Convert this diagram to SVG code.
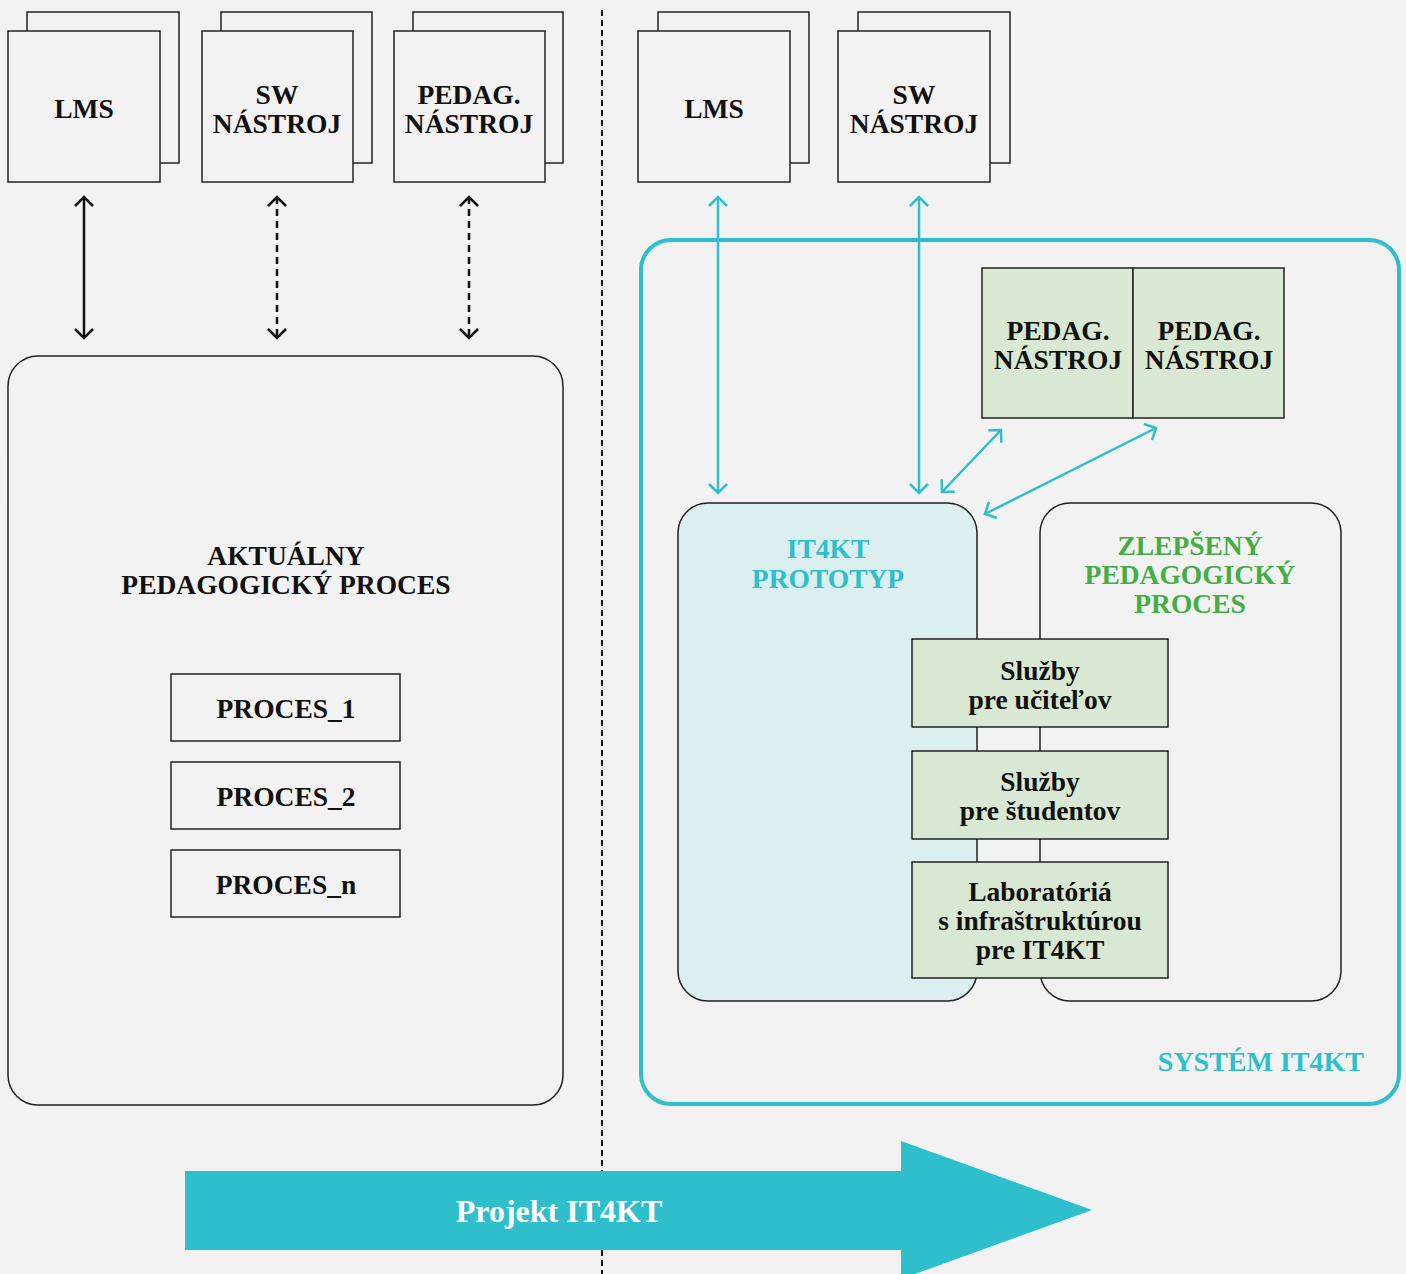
<svg xmlns="http://www.w3.org/2000/svg" width="1406" height="1274" viewBox="0 0 1406 1274">
<defs>
<style>
.t{font-family:"Liberation Serif","Times New Roman",serif;font-weight:bold;font-size:27.5px;fill:#111;text-anchor:middle}
.box{fill:#f1f2f1;stroke:#222;stroke-width:1.5}
.green{fill:#d8e8d2;stroke:#222;stroke-width:1.5}
.blk{stroke:#111;stroke-width:2.5;fill:none}
.cy{stroke:#2fbfcc;stroke-width:2.5;fill:none}
</style>
<marker id="ab" viewBox="0 0 20 20" refX="10" refY="10" markerWidth="20" markerHeight="20" markerUnits="userSpaceOnUse" orient="auto-start-reverse">
<path d="M1,1 L10,10 L1,19" fill="none" stroke="#111" stroke-width="2.5"/>
</marker>
<marker id="ac" viewBox="0 0 20 20" refX="10" refY="10" markerWidth="20" markerHeight="20" markerUnits="userSpaceOnUse" orient="auto-start-reverse">
<path d="M1,1 L10,10 L1,19" fill="none" stroke="#2fbfcc" stroke-width="2.5"/>
</marker>
</defs>
<rect width="1406" height="1274" fill="#f1f2f1"/>

<line x1="602" y1="10" x2="602" y2="1274" stroke="#111" stroke-width="2" stroke-dasharray="6,4"/>

<g id="lms-left">
<rect class="box" x="27" y="12" width="152" height="151"/>
<rect class="box" x="8" y="31" width="152" height="151"/>
<text class="t" x="84" y="118">LMS</text>
</g>
<g id="sw-left">
<rect class="box" x="221" y="12" width="151" height="151"/>
<rect class="box" x="202" y="31" width="151" height="151"/>
<text class="t" x="277" y="104">SW</text>
<text class="t" x="277" y="133">NÁSTROJ</text>
</g>
<g id="pedag-left">
<rect class="box" x="413" y="12" width="150" height="151"/>
<rect class="box" x="394" y="31" width="151" height="151"/>
<text class="t" x="469" y="104">PEDAG.</text>
<text class="t" x="469" y="133">NÁSTROJ</text>
</g>

<g id="aktualny">
<rect class="box" x="8" y="356" width="555" height="749" rx="30"/>
<text class="t" x="286" y="565">AKTUÁLNY</text>
<text class="t" x="286" y="594">PEDAGOGICKÝ PROCES</text>
</g>
<g id="proces1"><rect class="box" x="171" y="674" width="229" height="67"/><text class="t" x="286" y="718">PROCES_1</text></g>
<g id="proces2"><rect class="box" x="171" y="762" width="229" height="67"/><text class="t" x="286" y="806">PROCES_2</text></g>
<g id="procesn"><rect class="box" x="171" y="850" width="229" height="67"/><text class="t" x="286" y="894">PROCES_n</text></g>

<g id="lms-right">
<rect class="box" x="658" y="12" width="151" height="151"/>
<rect class="box" x="638" y="31" width="152" height="151"/>
<text class="t" x="714" y="118">LMS</text>
</g>
<g id="sw-right">
<rect class="box" x="858" y="12" width="152" height="151"/>
<rect class="box" x="838" y="31" width="152" height="151"/>
<text class="t" x="914" y="104">SW</text>
<text class="t" x="914" y="133">NÁSTROJ</text>
</g>

<g id="system">
<rect x="641" y="240" width="758" height="864" rx="30" fill="none" stroke="#2fbfcc" stroke-width="4"/>
<text class="t" x="1364" y="1071" style="text-anchor:end;fill:#2fbfcc;font-size:28px">SYSTÉM IT4KT</text>
</g>

<g id="pedag-r1"><rect class="green" x="982" y="268" width="151" height="150"/><text class="t" x="1058" y="340">PEDAG.</text><text class="t" x="1058" y="369">NÁSTROJ</text></g>
<g id="pedag-r2"><rect class="green" x="1133" y="268" width="151" height="150"/><text class="t" x="1209" y="340">PEDAG.</text><text class="t" x="1209" y="369">NÁSTROJ</text></g>

<g id="prototyp">
<rect x="678" y="503" width="299" height="498" rx="30" fill="#dbeef0" stroke="#222" stroke-width="1.5"/>
<text class="t" x="828" y="558" style="fill:#2fbfcc">IT4KT</text>
<text class="t" x="828" y="588" style="fill:#2fbfcc">PROTOTYP</text>
</g>
<g id="zlepseny">
<rect class="box" x="1040" y="503" width="301" height="498" rx="30"/>
<text class="t" x="1190" y="555" style="fill:#44ad45">ZLEPŠENÝ</text>
<text class="t" x="1190" y="584" style="fill:#44ad45">PEDAGOGICKÝ</text>
<text class="t" x="1190" y="613" style="fill:#44ad45">PROCES</text>
</g>
<g id="sluzby-ucitelov"><rect class="green" x="912" y="639" width="256" height="88"/><text class="t" x="1040" y="680">Služby</text><text class="t" x="1040" y="709">pre učiteľov</text></g>
<g id="sluzby-studentov"><rect class="green" x="912" y="751" width="256" height="88"/><text class="t" x="1040" y="791">Služby</text><text class="t" x="1040" y="820">pre študentov</text></g>
<g id="laboratoria"><rect class="green" x="912" y="862" width="256" height="116"/><text class="t" x="1040" y="901">Laboratóriá</text><text class="t" x="1040" y="930">s infraštruktúrou</text><text class="t" x="1040" y="959">pre IT4KT</text></g>

<g id="connectors">
<line class="blk" x1="84" y1="197" x2="84" y2="338" marker-start="url(#ab)" marker-end="url(#ab)"/>
<line class="blk" x1="277" y1="197" x2="277" y2="338" stroke-dasharray="7,5" marker-start="url(#ab)" marker-end="url(#ab)"/>
<line class="blk" x1="469" y1="197" x2="469" y2="338" stroke-dasharray="7,5" marker-start="url(#ab)" marker-end="url(#ab)"/>
<line class="cy" x1="718" y1="197" x2="718" y2="493" marker-start="url(#ac)" marker-end="url(#ac)"/>
<line class="cy" x1="919" y1="197" x2="919" y2="493" marker-start="url(#ac)" marker-end="url(#ac)"/>
<line class="cy" x1="942" y1="492" x2="1001" y2="430" marker-start="url(#ac)" marker-end="url(#ac)"/>
<line class="cy" x1="985" y1="514" x2="1156" y2="428" marker-start="url(#ac)" marker-end="url(#ac)"/>
</g>

<g id="projekt">
<polygon points="185,1171 901,1171 901,1141 1092,1210 901,1279 901,1250 185,1250" fill="#2fbfcc"/>
<text class="t" x="559" y="1222" style="fill:#fff;font-size:32px">Projekt IT4KT</text>
</g>
</svg>
